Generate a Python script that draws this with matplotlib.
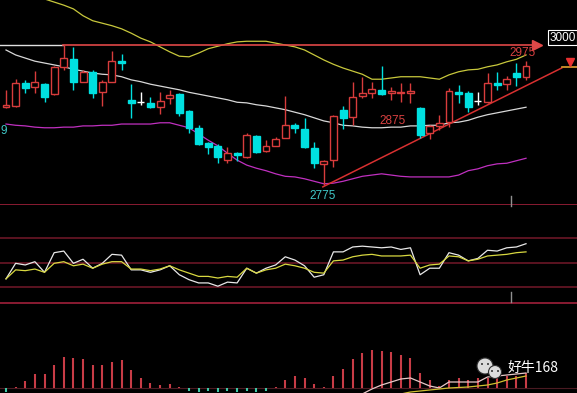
import numpy as np
import matplotlib.pyplot as plt
from matplotlib.patches import Ellipse
from matplotlib.lines import Line2D

W, H = 577, 393

# candle data (price)
opens = [2900, 2902, 2939, 2933, 2937, 2921, 2965, 2977, 2941, 2957,
         2924, 2941, 2974, 2912, 2908, 2907, 2900, 2915, 2922, 2894,
         2867, 2843, 2838, 2815, 2827, 2820, 2854, 2830, 2838, 2851,
         2871, 2865, 2834, 2809, 2815, 2896, 2884, 2918, 2923, 2928,
         2923, 2923, 2923, 2899, 2859, 2870, 2876, 2924, 2923, 2910,
         2908, 2939, 2937, 2955, 2949]
highs = [2928, 2945, 2944, 2958, 2939, 2966, 3000, 2997, 2960, 2960,
         2944, 2990, 2986, 2937, 2924, 2916, 2924, 2928, 2923, 2896,
         2871, 2844, 2841, 2836, 2828, 2859, 2855, 2847, 2852, 2918,
         2875, 2883, 2844, 2815, 2887, 2902, 2941, 2949, 2941, 2966,
         2933, 2939, 2939, 2900, 2871, 2888, 2931, 2936, 2926, 2924,
         2955, 2957, 2950, 2971, 2975]
lows = [2898, 2901, 2923, 2923, 2908, 2920, 2960, 2928, 2940, 2915,
        2902, 2940, 2960, 2883, 2904, 2899, 2889, 2905, 2886, 2859,
        2839, 2825, 2810, 2810, 2814, 2819, 2826, 2828, 2837, 2850,
        2859, 2835, 2802, 2775, 2804, 2865, 2871, 2915, 2915, 2920,
        2912, 2908, 2907, 2851, 2849, 2863, 2868, 2907, 2892, 2904,
        2907, 2928, 2928, 2934, 2944]
closes = [2903, 2939, 2931, 2941, 2916, 2965, 2979, 2941, 2957, 2923,
          2941, 2974, 2971, 2907, 2908, 2900, 2910, 2920, 2891, 2867,
          2841, 2836, 2820, 2826, 2823, 2855, 2828, 2838, 2849, 2871,
          2867, 2836, 2810, 2814, 2886, 2883, 2916, 2923, 2929, 2921,
          2926, 2925, 2926, 2855, 2870, 2875, 2926, 2921, 2900, 2910,
          2939, 2936, 2945, 2949, 2966]

# bands
upper = [3096, 3092, 3085, 3079, 3074, 3069, 3064, 3058, 3047, 3039,
         3035, 3031, 3026, 3019, 3011, 3005, 2997, 2989, 2982, 2981,
         2987, 2994, 2998, 3002, 3005, 3006, 3006, 3006, 3003, 3000,
         2997, 2992, 2984, 2976, 2969, 2963, 2958, 2953, 2945, 2945,
         2947, 2949, 2949, 2949, 2947, 2945, 2952, 2957, 2960, 2961,
         2965, 2968, 2973, 2977, 2984]
mid = [2992, 2984, 2979, 2974, 2971, 2968, 2965, 2961, 2958, 2955,
       2953, 2952, 2949, 2944, 2941, 2937, 2934, 2931, 2928, 2924,
       2921, 2918, 2915, 2912, 2908, 2907, 2904, 2902, 2899, 2896,
       2892, 2888, 2883, 2878, 2875, 2871, 2870, 2868, 2867, 2867,
       2868, 2868, 2870, 2870, 2871, 2871, 2875, 2876, 2879, 2884,
       2888, 2891, 2894, 2897, 2900]
lower = [2873, 2871, 2870, 2868, 2867, 2867, 2868, 2868, 2870, 2870,
         2871, 2871, 2873, 2873, 2873, 2873, 2875, 2875, 2871, 2867,
         2857, 2847, 2838, 2826, 2815, 2807, 2802, 2798, 2793, 2789,
         2788, 2785, 2781, 2777, 2778, 2781, 2785, 2789, 2791, 2793,
         2791, 2789, 2788, 2788, 2788, 2788, 2788, 2791, 2798, 2801,
         2806, 2809, 2810, 2814, 2818]

# middle panel oscillator
k_line = [30, 49, 47, 51, 38, 62, 64, 49, 54, 43, 49, 60, 59, 41, 41, 38, 41, 46, 35, 29,
          25, 25, 21, 26, 25, 43, 37, 43, 47, 57, 53, 46, 32, 35, 63, 63, 69, 70, 69, 68,
          69, 66, 68, 35, 43, 43, 62, 59, 52, 55, 65, 64, 68, 69, 73]
d_line = [30, 41, 40, 42, 38, 49, 51, 46, 48, 43, 48, 51, 51, 42, 42, 40, 42, 46, 41, 37,
          33, 33, 31, 33, 32, 43, 37, 41, 43, 48, 46, 43, 38, 37, 52, 53, 57, 59, 60, 58,
          58, 58, 59, 43, 47, 48, 58, 57, 52, 54, 58, 59, 60, 62, 63]
osc_levels = [80, 50, 20]

# bottom panel macd
macd_bar = [-2, 0.3, 3.5, 7, 7, 11.5, 15.5, 15, 14.5, 11.5, 11.5, 13, 14, 9, 5, 2.5, 1.5, 2, 0.3,
            -1.5, -2, -1.5, -2, -1.5, -2, -1.5, -2, -1.5, 0.3,
            4, 6, 5, 2, 0.5, 6, 9.5, 14.5, 17.5, 19, 18.5, 18, 16.5, 15, 7.5, 4, 1, 4, 5, 4, 5,
            5, 5, 6, 6, 7.5]
nan = np.nan
dif = [nan] * 36 + [-6, -3, -0.5, 1.5, 3, 4.5, 5, 3, 1, 0, 3, 3, 3, 3, 5.5, 6, 6.5, 7, 7.5]
dea = [nan] * 40 + [-4, -3, -2, -1.5, -1, -0.5, 0, 0.25, 0.5, 1, 1.5, 2.5, 4, 5, 6]

RED = '#d83c3c'
CYAN = '#00e0e0'
idx = np.arange(len(opens))
xlim = (-6 / 9.63, (W - 6) / 9.63)

fig = plt.figure(figsize=(W / 100, H / 100), dpi=100)
fig.patch.set_facecolor('black')


def panel(top, bottom):
    ax = fig.add_axes([0, 1 - bottom / H, 1, (bottom - top) / H])
    ax.set_facecolor('black')
    ax.set_axis_off()
    ax.set_xlim(*xlim)
    return ax


# ---- main price panel
ax = panel(0, 204)
ax.set_ylim(2744.5, 3072.3)
ax.plot(idx, upper, color='#c8c83c', lw=0.9)
ax.plot(idx, mid, color='#d8d8d8', lw=0.9)
ax.plot(idx, lower, color='#c030c0', lw=0.9)

for i in idx:
    o, h, l, c = opens[i], highs[i], lows[i], closes[i]
    if c > o:
        col = RED
    elif c < o:
        col = CYAN
    else:
        col = 'white'
    ax.vlines(i, l, h, color=col, lw=1, zorder=3)
    if c == o:
        ax.hlines(o, i - 0.36, i + 0.36, color=col, lw=1, zorder=4)
    else:
        fc = 'black' if c > o else CYAN
        ax.bar(i, abs(c - o), bottom=min(o, c), width=0.72, facecolor=fc,
               edgecolor=col, lw=1, zorder=4)

# 3000 resistance line with arrow
ax.plot([xlim[0], 5.9], [3000, 3000], color='#e0e0e0', lw=1)
ax.plot([5.9, 55.1], [3000, 3000], color='#e04848', lw=1.2)
ax.plot([55.1], [3000], marker='>', color='#e04848', markersize=7)
ax.text(57.8, 3012, '3000', color='white', fontsize=8.5, family='Liberation Sans',
        ha='center', va='center',
        bbox=dict(facecolor='black', edgecolor='white', lw=0.8, pad=1.2))

# rising trend line
ax.plot([32.9, 57.7], [2772, 2963], color='#d83030', lw=1.1)
ax.plot([57.7, xlim[1]], [2965, 2965], color='#e0a030', lw=1.2)
ax.plot([58.6], [2973], marker='v', color='#e83030', markersize=6)

lab = dict(fontsize=8.5, family='Liberation Sans', ha='center', va='center')
ax.text(32.9, 2757, '2775', color='#40c8c8', **lab)
ax.text(40.1, 2878, '2875', color='#d84040', **lab)
ax.text(53.6, 2987, '2975', color='#d84040', **lab)
ax.text(xlim[0] + 0.05, 2862, '9', color='#40c8c8', fontsize=8.5,
        family='Liberation Sans', ha='left', va='center')

# ---- oscillator panel
ax2 = panel(204, 302)
ax2.set_ylim(1.66, 121.6)
ax2.axhline(121.0, color='#a0203a', lw=1.2)
for lv in osc_levels:
    ax2.axhline(lv, color='#6a1626', lw=1.2)
ax2.plot(idx, k_line, color='#e8e8e8', lw=0.9)
ax2.plot(idx, d_line, color='#d8d840', lw=0.9)

# ---- macd panel
ax3 = panel(302, 393)
ax3.set_ylim(-2.5, 43)
ax3.axhline(42.5, color='#a0203a', lw=1.2)
ax3.axhline(0, color='#4a1a22', lw=0.8)
bar_cols = ['#c83c46' if v > 0 else '#40c8a8' for v in macd_bar]
ax3.vlines(idx, 0, macd_bar, colors=bar_cols, lw=1.5)
ax3.plot(idx, dif, color='#e8c8c8', lw=0.9)
ax3.plot(idx, dea, color='#d0c030', lw=0.9)

# small cursor ticks
for y1, y2 in [(196, 206), (292, 302)]:
    fig.add_artist(Line2D([511 / W, 511 / W], [1 - y1 / H, 1 - y2 / H],
                          color='#909090', lw=1))

# watermark
for cx, cy, r in [(485, 366, 8), (495, 372, 6.5)]:
    fig.add_artist(Ellipse((cx / W, 1 - cy / H), 2 * r / W, 2 * r / H,
                           transform=fig.transFigure, facecolor='#dcdcdc',
                           edgecolor='#303030', lw=0.8))
for ex, ey in [(482, 364), (488, 364), (492, 371), (498, 371)]:
    fig.add_artist(Ellipse((ex / W, 1 - ey / H), 2 / W, 2 / H,
                           transform=fig.transFigure, facecolor='#303030', lw=0))
fig.text(508 / W, 1 - 368 / H, '好牛168', color='white', fontsize=10,
         family=['Noto Sans CJK SC', 'DejaVu Sans'], ha='left', va='center')

fig.savefig('out.png', dpi=100, facecolor='black')
